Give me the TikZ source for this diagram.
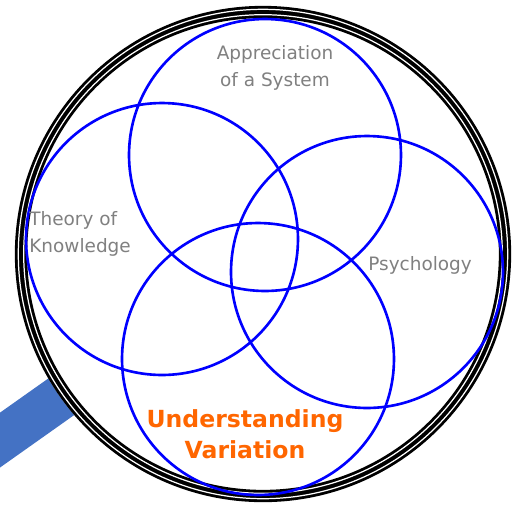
\documentclass[tikz,border=0pt]{standalone}
\usepackage{fontspec}
\setmainfont{DejaVu Sans}
\definecolor{handleblue}{HTML}{4472C4}
\definecolor{labelgray}{HTML}{808080}
\definecolor{accent}{HTML}{FF6600}
\begin{document}
\begin{tikzpicture}[x=0.02cm, y=-0.02cm,
  venn/.style={circle, draw=blue, line width=1.5pt, minimum size=5.44cm, inner sep=0pt},
  lbl/.style={text=labelgray, font=\fontsize{10.5}{15.3}\selectfont, inner sep=0pt},
  keylbl/.style={text=accent, font=\bfseries\fontsize{13.4}{17.5}\selectfont, inner sep=0pt, align=center}]
  \useasboundingbox (0,0) rectangle (512,512);
  % magnifier: handle, lens and rim
  \coordinate (lens) at (263,254);
  \coordinate (grip) at (-120,525);
  \draw[handleblue, line width=25.5pt] (grip) -- (lens);
  \fill[white] (lens) circle (248);
  \draw[black, line width=7pt] (lens) circle (242);
  \draw[white, line width=0.7pt] (lens) circle (244.7);
  \draw[white, line width=0.7pt] (lens) circle (239.3);
  % the four overlapping circles
  \node[venn] (sys) at (265,155) {};
  \node[venn] (know) at (162,239) {};
  \node[venn] (psy) at (367,272) {};
  \node[venn] (var) at (258,359) {};
  % labels
  \node[lbl, align=center] (tsys) at (275,68) {Appreciation\\of a System};
  \node[lbl, align=left, anchor=west] (tknow) at (29,234) {Theory of\\Knowledge};
  \node[lbl, anchor=west] (tpsy) at (368,265) {Psychology};
  \node[keylbl] (tvar) at (245,434) {Understanding\\Variation};
\end{tikzpicture}
\end{document}
